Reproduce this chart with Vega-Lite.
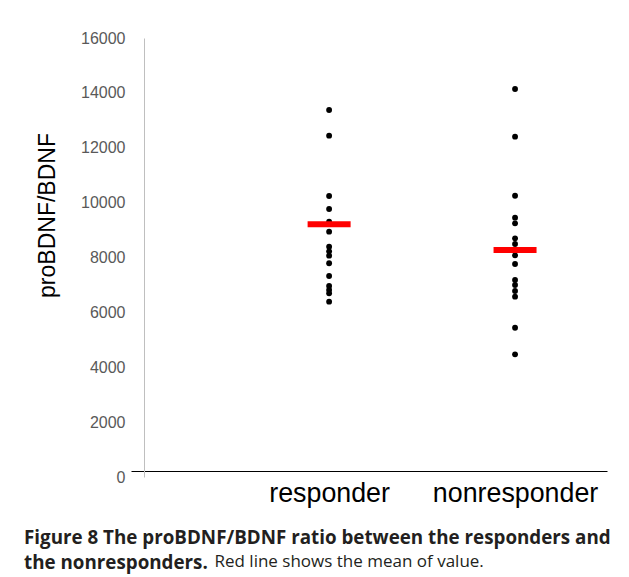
{
  "$schema": "https://vega.github.io/schema/vega-lite/v6.json",
  "width": 476,
  "height": 439,
  "autosize": {"type": "none"},
  "padding": {"left": 131, "top": 38, "right": 22, "bottom": 100},
  "background": "white",
  "config": {"view": {"stroke": null}},
  "title": {
    "text": ["Figure 8 The proBDNF/BDNF ratio between the responders and", "the nonresponders."],
    "orient": "bottom",
    "anchor": "start",
    "frame": "group",
    "dx": -107,
    "offset": -40,
    "font": "Open Sans",
    "fontSize": 18.8,
    "fontWeight": "bold",
    "color": "#231f20",
    "lineHeight": 25
  },
  "datasets": {
    "points": [
      {"group": "responder", "value": 13376},
      {"group": "responder", "value": 12439},
      {"group": "responder", "value": 10241},
      {"group": "responder", "value": 9768},
      {"group": "responder", "value": 9305},
      {"group": "responder", "value": 8940},
      {"group": "responder", "value": 8394},
      {"group": "responder", "value": 8226},
      {"group": "responder", "value": 8066},
      {"group": "responder", "value": 7789},
      {"group": "responder", "value": 7326},
      {"group": "responder", "value": 6961},
      {"group": "responder", "value": 6815},
      {"group": "responder", "value": 6695},
      {"group": "responder", "value": 6389},
      {"group": "nonresponder", "value": 14141},
      {"group": "nonresponder", "value": 12403},
      {"group": "nonresponder", "value": 10252},
      {"group": "nonresponder", "value": 9451},
      {"group": "nonresponder", "value": 9246},
      {"group": "nonresponder", "value": 8700},
      {"group": "nonresponder", "value": 8492},
      {"group": "nonresponder", "value": 8273},
      {"group": "nonresponder", "value": 8080},
      {"group": "nonresponder", "value": 7763},
      {"group": "nonresponder", "value": 7180},
      {"group": "nonresponder", "value": 6998},
      {"group": "nonresponder", "value": 6779},
      {"group": "nonresponder", "value": 6571},
      {"group": "nonresponder", "value": 5441},
      {"group": "nonresponder", "value": 4472}
    ],
    "means": [
      {"group": "responder", "mean": 9210},
      {"group": "nonresponder", "mean": 8273}
    ]
  },
  "layer": [
    {
      "data": {"name": "points"},
      "mark": {"type": "point", "filled": true, "color": "black", "opacity": 1, "size": 34},
      "encoding": {
        "x": {
          "field": "group",
          "type": "nominal",
          "sort": ["responder", "nonresponder"],
          "scale": {"type": "point", "domain": ["responder", "nonresponder"], "padding": 0.78, "align": 0.683},
          "axis": {
            "title": "Red line shows the mean of value.",
            "titleFont": "Open Sans",
            "titleFontSize": 17,
            "titleFontWeight": "normal",
            "titleColor": "#231f20",
            "titleX": 83,
            "titleY": 95,
            "titleAlign": "left",
            "titleBaseline": "alphabetic",
            "titleAnchor": null,
            "orient": "bottom",
            "offset": -6,
            "domainColor": "black",
            "domainWidth": 1,
            "ticks": false,
            "tickSize": 0,
            "labelFont": "Liberation Sans",
            "labelFontSize": 26.8,
            "labelColor": "black",
            "labelPadding": 9,
            "labelAngle": 0
          }
        },
        "y": {
          "field": "value",
          "type": "quantitative",
          "scale": {"domain": [0, 16000], "nice": false},
          "axis": {
            "title": "proBDNF/BDNF",
            "values": [0, 2000, 4000, 6000, 8000, 10000, 12000, 14000, 16000],
            "format": "d",
            "grid": false,
            "ticks": false,
            "tickSize": 0,
            "offset": -13,
            "domainColor": "#bfbfbf",
            "domainWidth": 1,
            "labelFont": "Liberation Sans",
            "labelFontSize": 16,
            "labelColor": "#595959",
            "labelPadding": 19,
            "titleFont": "Liberation Sans",
            "titleFontSize": 23,
            "titleFontWeight": "normal",
            "titleColor": "black",
            "titleX": -97,
            "titleY": 177,
            "titleAlign": "center",
            "titleBaseline": "middle",
            "titleAngle": -90
          }
        }
      }
    },
    {
      "data": {"name": "means"},
      "mark": {"type": "tick", "color": "#ff0000", "thickness": 6, "size": 43, "opacity": 1},
      "encoding": {
        "x": {"field": "group", "type": "nominal"},
        "y": {"field": "mean", "type": "quantitative"}
      }
    }
  ]
}
